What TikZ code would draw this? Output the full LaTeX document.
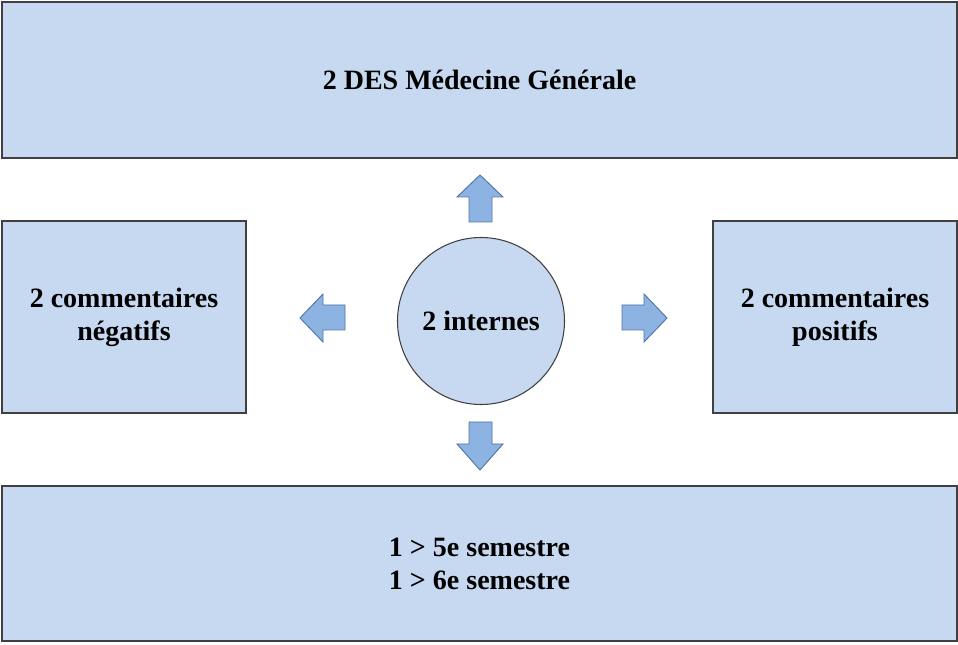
\documentclass[tikz,border=0pt]{standalone}
\usepackage{fontspec}
\setmainfont{Liberation Serif}
\definecolor{boxfill}{HTML}{C6D9F0}
\definecolor{boxline}{HTML}{404040}
\definecolor{arrfill}{HTML}{8DB3E2}
\definecolor{arrline}{HTML}{4F74A8}
\begin{document}
\begin{tikzpicture}[x=0.75pt,y=-0.75pt,
  box/.style={draw=boxline,fill=boxfill,line width=0.8pt,inner sep=0pt,
    font=\fontsize{21}{24.75}\selectfont\bfseries,align=center},
  bigarrow/.style={draw=arrline,fill=arrfill,line width=0.7pt,line join=miter}]
\useasboundingbox (0,0) rectangle (958,645);
\node[box,minimum width=955*0.75pt,minimum height=156*0.75pt] (top) at (479.5,80) {2 DES Médecine Générale};
\node[box,minimum width=244*0.75pt,minimum height=192*0.75pt] (left) at (124,317) {2 commentaires\\négatifs};
\node[box,minimum width=244*0.75pt,minimum height=192*0.75pt] (right) at (835,317) {2 commentaires\\positifs};
\node[box,circle,minimum size=167*0.75pt] (mid) at (481,321) {2 internes};
\node[box,minimum width=955*0.75pt,minimum height=155*0.75pt] (bot) at (479.5,563.5) {1 > 5e semestre\\1 > 6e semestre};
% up arrow
\draw[bigarrow] (480,175) -- (503,197) -- (492,197) -- (492,222) -- (469,222) -- (469,197) -- (457,197) -- cycle;
% down arrow
\draw[bigarrow] (480,470) -- (503,444) -- (492,444) -- (492,422) -- (469,422) -- (469,444) -- (457,444) -- cycle;
% left arrow
\draw[bigarrow] (300,318) -- (323,294) -- (323,305) -- (345,305) -- (345,330) -- (323,330) -- (323,342) -- cycle;
% right arrow
\draw[bigarrow] (667,318) -- (644,294) -- (644,305) -- (622,305) -- (622,330) -- (644,330) -- (644,342) -- cycle;
\end{tikzpicture}
\end{document}
